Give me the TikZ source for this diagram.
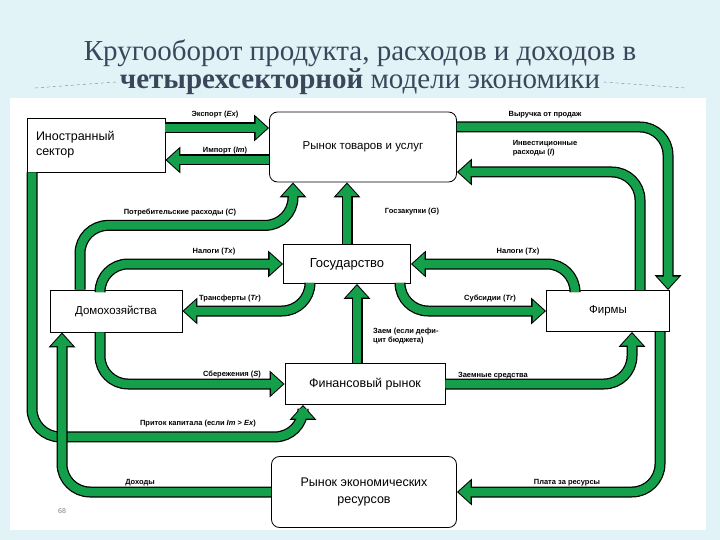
\documentclass[tikz,border=0pt]{standalone}
\usepackage{fontspec}
\setmainfont{Liberation Sans}
\newfontfamily\titlefont{Liberation Serif}
\usetikzlibrary{positioning,arrows.meta,calc}
\definecolor{flowgreen}{RGB}{20,160,75}
\definecolor{bgblue}{RGB}{226,243,248}
\definecolor{titlegray}{RGB}{60,70,90}

\begin{document}
\begin{tikzpicture}[x=1pt,y=-1pt,
  box/.style={draw,thick,fill=white,font=\fontsize{11.5}{13.5}\selectfont,align=center},
  rbox/.style={box,rounded corners=8pt},
  lbl/.style={font=\bfseries\fontsize{7.5}{9}\selectfont,inner sep=1pt},
  flow/.style={rounded corners=28pt,line width=8.5pt,draw=flowgreen,
    -{Triangle[length=12pt,width=21pt]},shorten >=1.6pt,
    preaction={draw=black,line width=11pt,-{Triangle[length=15pt,width=26pt]},shorten >=0pt}}
]
\useasboundingbox (0,0) rectangle (720,540);
\fill[bgblue] (0,0) rectangle (720,540);
\fill[white] (10,98) rectangle (706,530);

% the title
\node[titlegray,font=\titlefont\fontsize{29}{32}\selectfont] (title1) at (360,53)
  {Кругооборот продукта, расходов и доходов в};
\node[titlegray,font=\titlefont\fontsize{29}{32}\selectfont] (title2) at (360,82)
  {\textbf{четырехсекторной} модели экономики};
\draw[titlegray!70,dashed] (35,88) -- (title2.west);
\draw[titlegray!70,dashed] (title2.east) -- (686,88);

% the sectors
\node[box,minimum width=138pt,minimum height=54pt,text width=120pt,align=left,font=\fontsize{12.5}{15}\selectfont] (foreign) at (96,145)
  {Иностранный\\сектор};
\node[rbox,minimum width=187pt,minimum height=70pt] (goods) at (363,147) {Рынок товаров и услуг};
\node[box,minimum width=127pt,minimum height=39pt,font=\fontsize{13}{15}\selectfont] (gov) at (347,264) {Государство};
\node[box,minimum width=132pt,minimum height=42pt] (house) at (116,311) {Домохозяйства};
\node[box,minimum width=123pt,minimum height=41pt] (firms) at (608,311) {Фирмы};
\node[box,minimum width=160pt,minimum height=41pt,font=\fontsize{12.5}{15}\selectfont] (fin) at (365,384) {Финансовый рынок};
\node[rbox,minimum width=185pt,minimum height=71pt,font=\fontsize{12.5}{17}\selectfont] (res) at (364,492) {Рынок экономических\\ресурсов};

% the flows
\draw[flow] ([yshift=17pt]foreign.east) -- ([yshift=19pt]goods.west);
\draw[flow] ([yshift=-13pt]goods.west) -- ([yshift=-15pt]foreign.east);
\draw[flow] ([yshift=20pt]goods.east) -| ([xshift=60pt]firms.north);
\draw[flow] ([xshift=32pt]firms.north) |- ([yshift=-25pt]goods.east);
\draw[flow] ([xshift=-36pt]house.north) |- ([xshift=-70pt,yshift=-43pt]goods.south) -- ([xshift=-70pt]goods.south);
\draw[flow] (gov.north) -- (gov.north |- goods.south);
\draw[flow] ([xshift=-16pt]house.north) |- (gov.west);
\draw[flow] ([xshift=-33pt]firms.north) |- (gov.east);
\draw[flow] ([xshift=-37pt]gov.south) |- (house.east);
\draw[flow] ([xshift=53pt]gov.south) |- (firms.west);
\draw[flow] ([xshift=-8pt]fin.north) -- ([xshift=10pt]gov.south);
\draw[flow] ([xshift=-16pt]house.south) |- (fin.west);
\draw[flow] (fin.east) -| ([xshift=24pt]firms.south);
\draw[flow] ([xshift=-64pt]foreign.south) |- ([xshift=-62pt,yshift=-32pt]fin.south) -- ([xshift=-62pt]fin.south);
\draw[flow] (res.west) -| ([xshift=-54pt]house.south);
\draw[flow] ([xshift=52pt]firms.south) |- (res.east);

% the labels
\node[lbl] (lex) at (215,115) {Экспорт (\textit{Ex})};
\node[lbl] (lim) at (225,151) {Импорт (\textit{Im})};
\node[lbl] (lrev) at (545,115) {Выручка от продаж};
\node[lbl,align=left] (linv) at (545,148) {Инвестиционные\\расходы (\textit{I})};
\node[lbl] (lcons) at (180,213) {Потребительские расходы (\textit{C})};
\node[lbl] (lgp) at (412,212) {Госзакупки (\textit{G})};
\node[lbl] (ltx1) at (214,252) {Налоги (\textit{Tx})};
\node[lbl] (ltx2) at (518,252) {Налоги (\textit{Tx})};
\node[lbl] (ltr) at (230,299) {Трансферты (\textit{Tr})};
\node[lbl] (lsub) at (490,299) {Субсидии (\textit{Tr})};
\node[lbl,align=left,anchor=west] (lloan) at (372,336) {Заем (если дефи-\\цит бюджета)};
\node[lbl] (lsav) at (232,375) {Сбережения (\textit{S})};
\node[lbl] (lborr) at (493,376) {Заемные средства};
\node[lbl] (lcap) at (198,424) {Приток капитала (если \textit{Im} > \textit{Ex})};
\node[lbl] (linc) at (140,483) {Доходы};
\node[lbl] (lpay) at (567,483) {Плата за ресурсы};
\node[gray,font=\scriptsize] (page) at (62,511) {68};
\end{tikzpicture}
\end{document}
